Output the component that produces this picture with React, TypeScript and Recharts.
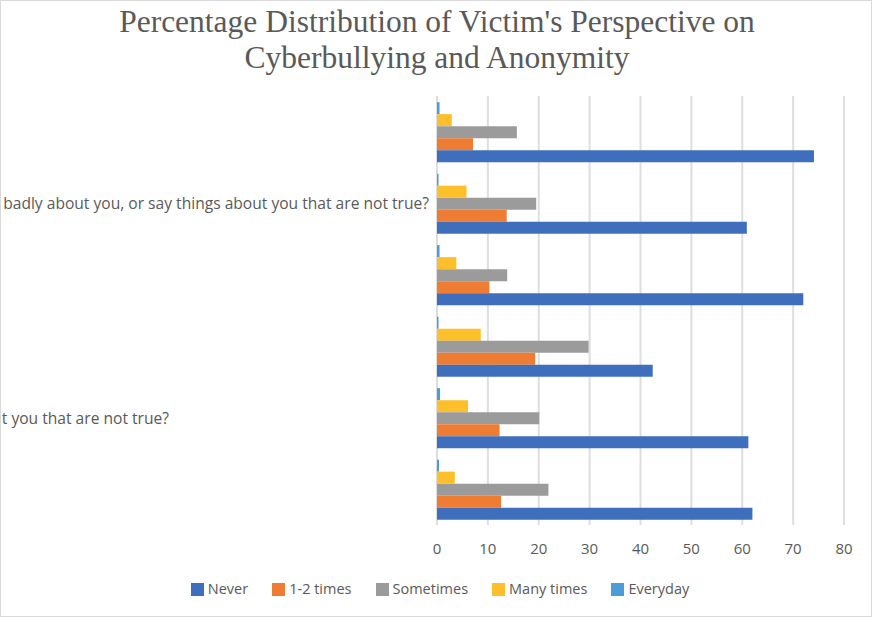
import { BarChart, Bar, XAxis, YAxis, CartesianGrid } from 'recharts';

// categories top to bottom (labels are clipped in the source picture)
const questions = ['q1', 'q2', 'q3', 'q4', 'q5', 'q6'];
const questionLabels = [
  '',
  'badly about you, or say things about you that are not true?',
  '',
  '',
  't you that are not true?',
  '',
];

const never = [74.1, 60.9, 72.0, 42.4, 61.2, 62.0];
const onceTwice = [7.1, 13.7, 10.3, 19.3, 12.3, 12.6];
const sometimes = [15.7, 19.5, 13.8, 29.8, 20.1, 21.9];
const manyTimes = [2.9, 5.8, 3.8, 8.6, 6.1, 3.5];
const everyday = [0.5, 0.3, 0.5, 0.3, 0.6, 0.4];

const xTicks = [0, 10, 20, 30, 40, 50, 60, 70, 80];

const SERIES = [
  { key: 'never', name: 'Never', color: '#3F6FBC' },
  { key: 'onceTwice', name: '1-2 times', color: '#EE7D33' },
  { key: 'sometimes', name: 'Sometimes', color: '#9B9B9B' },
  { key: 'manyTimes', name: 'Many times', color: '#FDBF2A' },
  { key: 'everyday', name: 'Everyday', color: '#4E9BDA' },
];

const data = questions.map((q, i) => ({
  q,
  never: never[i],
  onceTwice: onceTwice[i],
  sometimes: sometimes[i],
  manyTimes: manyTimes[i],
  everyday: everyday[i],
}));

const TEXT = '#595959';
const FONT = '"Open Sans", "Noto Sans", sans-serif';

// the 5th label sits further left in the original
const LABEL_SHIFT: Record<number, number> = { 4: -260 };

function QuestionTick(props: any) {
  const { x, y, index } = props;
  const label = questionLabels[index] ?? '';
  return (
    <text
      x={x + (LABEL_SHIFT[index] ?? 0)}
      y={y}
      dy={6}
      textAnchor="end"
      fill={TEXT}
      fontSize={15.6}
      fontFamily={FONT}
    >
      {label}
    </text>
  );
}

export default function App() {
  // Excel draws the first series at the bottom of each group
  const drawOrder = [...SERIES].reverse();

  return (
    <div
      style={{
        position: 'relative',
        width: 872,
        height: 617,
        boxSizing: 'border-box',
        border: '1px solid #d9d9d9',
        background: '#fff',
        overflow: 'hidden',
      }}
    >
      <style>{`body{margin:0}`}</style>
      <div
        style={{
          position: 'absolute',
          top: 3,
          left: 0,
          width: 872,
          textAlign: 'center',
          fontFamily: '"Liberation Serif", "Times New Roman", serif',
          fontSize: 31.5,
          lineHeight: '36px',
          color: TEXT,
        }}
      >
        Percentage Distribution of Victim's Perspective on
        <br />
        Cyberbullying and Anonymity
      </div>

      <div style={{ position: 'absolute', top: -1, left: -1 }}>
        <BarChart
          width={872}
          height={561}
          data={data}
          layout="vertical"
          margin={{ top: 96, right: 28, bottom: 0, left: 0 }}
          barCategoryGap="8.6%"
          barGap={0}
        >
          <CartesianGrid horizontal={false} stroke="#dedede" strokeWidth={2} />
          <XAxis
            type="number"
            domain={[0, 80]}
            ticks={xTicks}
            axisLine={false}
            tickLine={false}
            tickMargin={12}
            height={36}
            tick={{ fill: TEXT, fontSize: 15, fontFamily: FONT }}
          />
          <YAxis
            type="category"
            dataKey="q"
            width={437}
            axisLine={false}
            tickLine={false}
            interval={0}
            tick={<QuestionTick />}
          />
          {drawOrder.map((s) => (
            <Bar
              key={s.key}
              dataKey={s.key}
              name={s.name}
              fill={s.color}
              isAnimationActive={false}
            />
          ))}
        </BarChart>
      </div>

      <div
        style={{
          position: 'absolute',
          top: 578,
          left: 0,
          width: 872,
          display: 'flex',
          justifyContent: 'center',
          paddingLeft: 6,
          boxSizing: 'border-box',
          gap: 24,
          fontFamily: FONT,
          fontSize: 14.5,
          color: TEXT,
          lineHeight: '20px',
        }}
      >
        {SERIES.map((s) => (
          <div key={s.key} style={{ display: 'flex', alignItems: 'center', gap: 4 }}>
            <span style={{ width: 13, height: 13, background: s.color, display: 'inline-block' }} />
            <span>{s.name}</span>
          </div>
        ))}
      </div>
    </div>
  );
}
